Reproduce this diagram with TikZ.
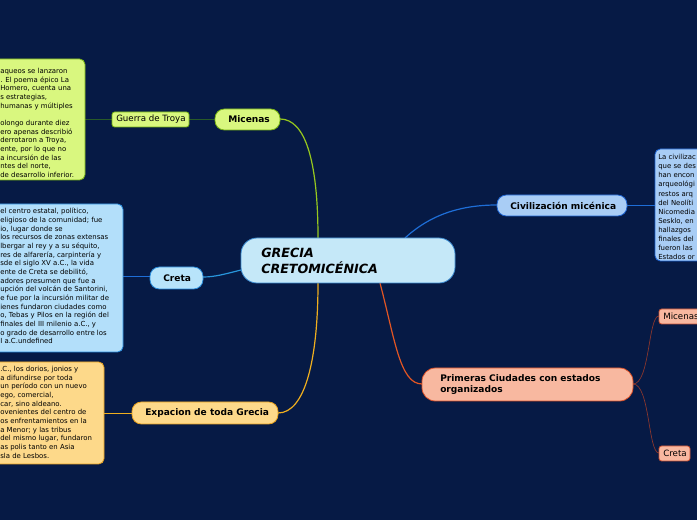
\documentclass[tikz,border=0pt]{standalone}
\usepackage{fontspec}
\setmainfont{DejaVu Sans}
\begin{document}
\begin{tikzpicture}[x=0.75pt,y=-0.75pt,
 box/.style={draw,rounded corners=3pt,line width=0.6pt,inner sep=0pt},
 lbl/.style={font=\fontsize{6.8}{8}\selectfont\bfseries,anchor=west,inner sep=0pt},
 sml/.style={font=\fontsize{6.5}{8}\selectfont,anchor=west,inner sep=0pt},
 txt/.style={font=\fontsize{5.2}{6.5}\selectfont,align=left,anchor=north west,inner sep=0pt}]
\definecolor{bg}{HTML}{061A45}
\definecolor{cen}{HTML}{C5E8F8}
\definecolor{grn}{HTML}{D9F77F}
\definecolor{lbl}{HTML}{B8E4FA}
\definecolor{yel}{HTML}{FDD98A}
\definecolor{civ}{HTML}{A9CDF5}
\definecolor{sal}{HTML}{F8B8A0}
\definecolor{tbox}{HTML}{B3DFFA}
\useasboundingbox (0,0) rectangle (697,520);
\fill[bg] (0,0) rectangle (697,520);
\clip (0,0) rectangle (697,520);
% connectors
\draw[color={rgb,255:red,150;green,200;blue,30},line width=0.9pt] (318,238) .. controls (318,160) and (305,119) .. (280,119);
\draw[color={rgb,255:red,40;green,150;blue,220},line width=0.9pt] (241,270) .. controls (225,274) and (215,277) .. (203,277);
\draw[color={rgb,255:red,240;green,175;blue,30},line width=0.9pt] (318,283) .. controls (318,360) and (305,413) .. (278,413);
\draw[color={rgb,255:red,30;green,110;blue,215},line width=0.9pt] (405,238) .. controls (430,215) and (460,205) .. (497,205);
\draw[color={rgb,255:red,225;green,85;blue,35},line width=0.9pt] (380,283) .. controls (395,340) and (400,384) .. (422,384);
\draw[color={rgb,255:red,140;green,55;blue,45},line width=0.5pt] (633,384) .. controls (650,384) and (648,316) .. (659,316);
\draw[color={rgb,255:red,140;green,55;blue,45},line width=0.5pt] (633,384) .. controls (650,384) and (648,453) .. (659,453);
\draw[color={rgb,255:red,40;green,90;blue,40},line width=0.7pt] (189,119) -- (215,119);
\draw[color={rgb,255:red,40;green,90;blue,40},line width=0.7pt] (85,119) -- (112,119);
\draw[color={rgb,255:red,30;green,110;blue,215},line width=0.7pt] (123,276) -- (150,276);
\draw[color={rgb,255:red,240;green,175;blue,30},line width=0.7pt] (104,413) -- (132,413);
\draw[color={rgb,255:red,30;green,110;blue,215},line width=0.7pt] (627,205) -- (655,205);
% central
\draw[box,fill=cen,draw={rgb,255:red,60;green,140;blue,210},rounded corners=12pt] (241,238) rectangle (455,283);
\node[anchor=west,align=left,inner sep=0pt,font=\fontsize{9.5}{11.5}\selectfont\bfseries\itshape] (c) at (261,261) {GRECIA\\CRETOMICÉNICA};
% nodes
\draw[box,fill=grn,draw={rgb,255:red,120;green,180;blue,20},rounded corners=7pt] (215,109) rectangle (280,130);
\node[lbl] (mic) at (228,119.5) {Micenas};
\draw[box,fill=grn,draw={rgb,255:red,120;green,180;blue,20},rounded corners=2pt] (112,112) rectangle (189,127);
\node[sml] (gt) at (116,119.5) {Guerra de Troya};
\draw[box,fill=lbl,draw={rgb,255:red,40;green,140;blue,220},rounded corners=7pt] (150,267) rectangle (203,289);
\node[lbl] (cr) at (163,278) {Creta};
\draw[box,fill=yel,draw={rgb,255:red,230;green,160;blue,30},rounded corners=7pt] (132,402) rectangle (278,424);
\node[lbl] (ex) at (145,413) {Expacion de toda Grecia};
\draw[box,fill=civ,draw={rgb,255:red,30;green,100;blue,210},rounded corners=7pt] (497,195) rectangle (627,216);
\node[lbl] (civ) at (510,205.5) {Civilización micénica};
\draw[box,fill=sal,draw={rgb,255:red,220;green,80;blue,40},rounded corners=10pt] (422,368) rectangle (633,401);
\node[lbl,align=left] (pc) at (440,384.5) {Primeras Ciudades con estados\\organizados};
\draw[box,fill=sal,draw={rgb,255:red,200;green,80;blue,50},rounded corners=2pt] (659,309) rectangle (705,324);
\node[sml] (m2) at (663,316.5) {Micenas};
\draw[box,fill=sal,draw={rgb,255:red,200;green,80;blue,50},rounded corners=2pt] (659,446) rectangle (690,461);
\node[sml] (c2) at (663,453.5) {Creta};
% text boxes
\draw[box,fill=grn,draw={rgb,255:red,120;green,180;blue,20},rounded corners=4pt] (-20,59) rectangle (85,180);
\node[txt] (t1) at (0,68) {aqueos se lanzaron\\. El poema épico La\\ Homero, cuenta una\\s estrategias,\\ humanas y múltiples\\[6.5pt]olongo durante diez\\ero apenas describió\\ derrotaron a Troya,\\ente, por lo que no\\a incursión de las\\ntes del norte,\\de desarrollo inferior.};
\draw[box,fill=tbox,draw={rgb,255:red,40;green,140;blue,220},rounded corners=4pt] (-20,204) rectangle (123,352);
\node[txt] (t2) at (0,208) {el centro estatal, político,\\eligioso de la comunidad; fue\\io, lugar donde se\\los recursos de zonas extensas\\lbergar al rey y a su séquito,\\res de alfarería, carpintería y\\sde el siglo XV a.C., la vida\\ente de Creta se debilitó,\\adores presumen que fue a\\upción del volcán de Santorini,\\e fue por la incursión militar de\\ienes fundaron ciudades como\\o, Tebas y Pilos en la región del\\finales del III milenio a.C., y\\o grado de desarrollo entre los\\I a.C.undefined};
\draw[box,fill=yel,draw={rgb,255:red,230;green,160;blue,30},rounded corners=4pt] (-20,362) rectangle (104,464);
\node[txt] (t3) at (0,366) {.C., los dorios, jonios y\\a difundirse por toda\\ un período con un nuevo\\ego, comercial,\\car, sino aldeano.\\ovenientes del centro de\\os enfrentamientos en la\\a Menor; y las tribus\\ del mismo lugar, fundaron\\as polis tanto en Asia\\sla de Lesbos.};
\draw[box,fill=civ,draw={rgb,255:red,30;green,100;blue,210},rounded corners=4pt] (655,149) rectangle (720,261);
\node[txt,font=\fontsize{5.2}{6.85}\selectfont] (t4) at (658,154) {La civilizac\\que se des\\han encon\\arqueológi\\restos arq\\del Neolíti\\Nicomedia\\Sesklo, en\\hallazgos \\finales del\\fueron las\\Estados or};
\end{tikzpicture}
\end{document}
